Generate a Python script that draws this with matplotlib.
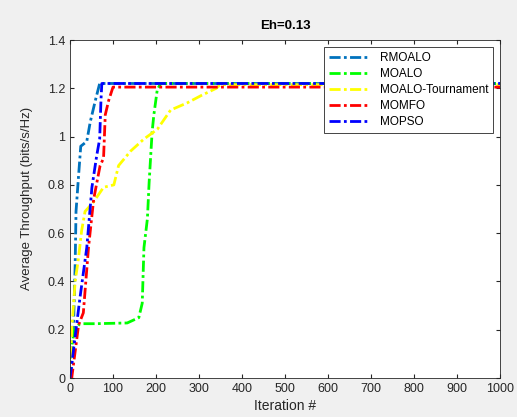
import matplotlib
matplotlib.use("Agg")
import matplotlib.pyplot as plt

plt.rcParams['font.family'] = ['Liberation Sans', 'DejaVu Sans']

# iteration / throughput points
rmoalo_x = [0, 4, 8, 12, 14, 20, 25, 39, 47, 59, 69, 1000]
rmoalo_y = [0.0, 0.05, 0.2, 0.47, 0.69, 0.84, 0.96, 0.98, 1.06, 1.15, 1.22, 1.22]

moalo_x = [0, 10, 23, 60, 133, 160, 168, 172, 180, 184, 191, 195, 203, 211, 1000]
moalo_y = [0.08, 0.2, 0.225, 0.225, 0.228, 0.25, 0.31, 0.54, 0.66, 0.81, 1.02, 1.09, 1.195, 1.22, 1.22]

tour_x = [0, 4, 12, 20, 27, 35, 55, 78, 102, 113, 141, 172, 203, 234, 273, 305, 340, 350, 1000]
tour_y = [0.0, 0.2, 0.4, 0.5, 0.61, 0.69, 0.73, 0.79, 0.8, 0.88, 0.94, 0.99, 1.03, 1.11, 1.14, 1.17, 1.2, 1.215, 1.215]

momfo_x = [0, 4, 20, 31, 43, 55, 70, 78, 82, 90, 100, 1000]
momfo_y = [0.0, 0.0, 0.22, 0.27, 0.54, 0.74, 0.88, 0.91, 1.09, 1.15, 1.205, 1.205]

mopso_x = [0, 23, 39, 51, 62, 69, 72, 74, 1000]
mopso_y = [0.0, 0.33, 0.54, 0.79, 0.92, 0.99, 1.15, 1.22, 1.22]

names = ["RMOALO", "MOALO", "MOALO-Tournament", "MOMFO", "MOPSO"]
colors = ["#0072BD", "#00FF00", "#FFFF00", "#FF0000", "#0000FF"]
series = [(rmoalo_x, rmoalo_y), (moalo_x, moalo_y), (tour_x, tour_y),
          (momfo_x, momfo_y), (mopso_x, mopso_y)]

fig = plt.figure(figsize=(5.17, 4.17), dpi=100, facecolor="#f0f0f0")
ax = fig.add_axes([0.1354, 0.0935, 0.8317, 0.8105])

for (x, y), name, c in zip(series, names, colors):
    ax.plot(x, y, color=c, linewidth=2, linestyle=(0, (4, 1.2, 1, 1.2)), label=name)

ax.set_xlim(0, 1000)
ax.set_ylim(0, 1.4)
ax.set_xticks(range(0, 1001, 100))
ax.set_yticks([0, 0.2, 0.4, 0.6, 0.8, 1, 1.2, 1.4])
ax.set_yticklabels(["0", "0.2", "0.4", "0.6", "0.8", "1", "1.2", "1.4"])
ax.tick_params(direction="in", top=True, right=True, labelsize=9,
               colors="#262626", length=3)
for s in ax.spines.values():
    s.set_color("#262626")
    s.set_linewidth(0.6)

ax.set_title("Eh=0.13", fontsize=9.5, fontweight="bold", pad=8)
ax.set_xlabel("Iteration #", fontsize=10, color="#262626", labelpad=3)
ax.set_ylabel("Average Throughput (bits/s/Hz)", fontsize=9.5, color="#262626")
ax.yaxis.set_label_coords(-0.085, 0.53)

leg = ax.legend(loc="upper right", fontsize=8.5, fancybox=False, framealpha=1,
                edgecolor="#262626", handlelength=3.5, borderaxespad=0.6,
                labelspacing=0.35)
leg.get_frame().set_linewidth(0.6)

fig.savefig("out.png", dpi=100, facecolor=fig.get_facecolor())
